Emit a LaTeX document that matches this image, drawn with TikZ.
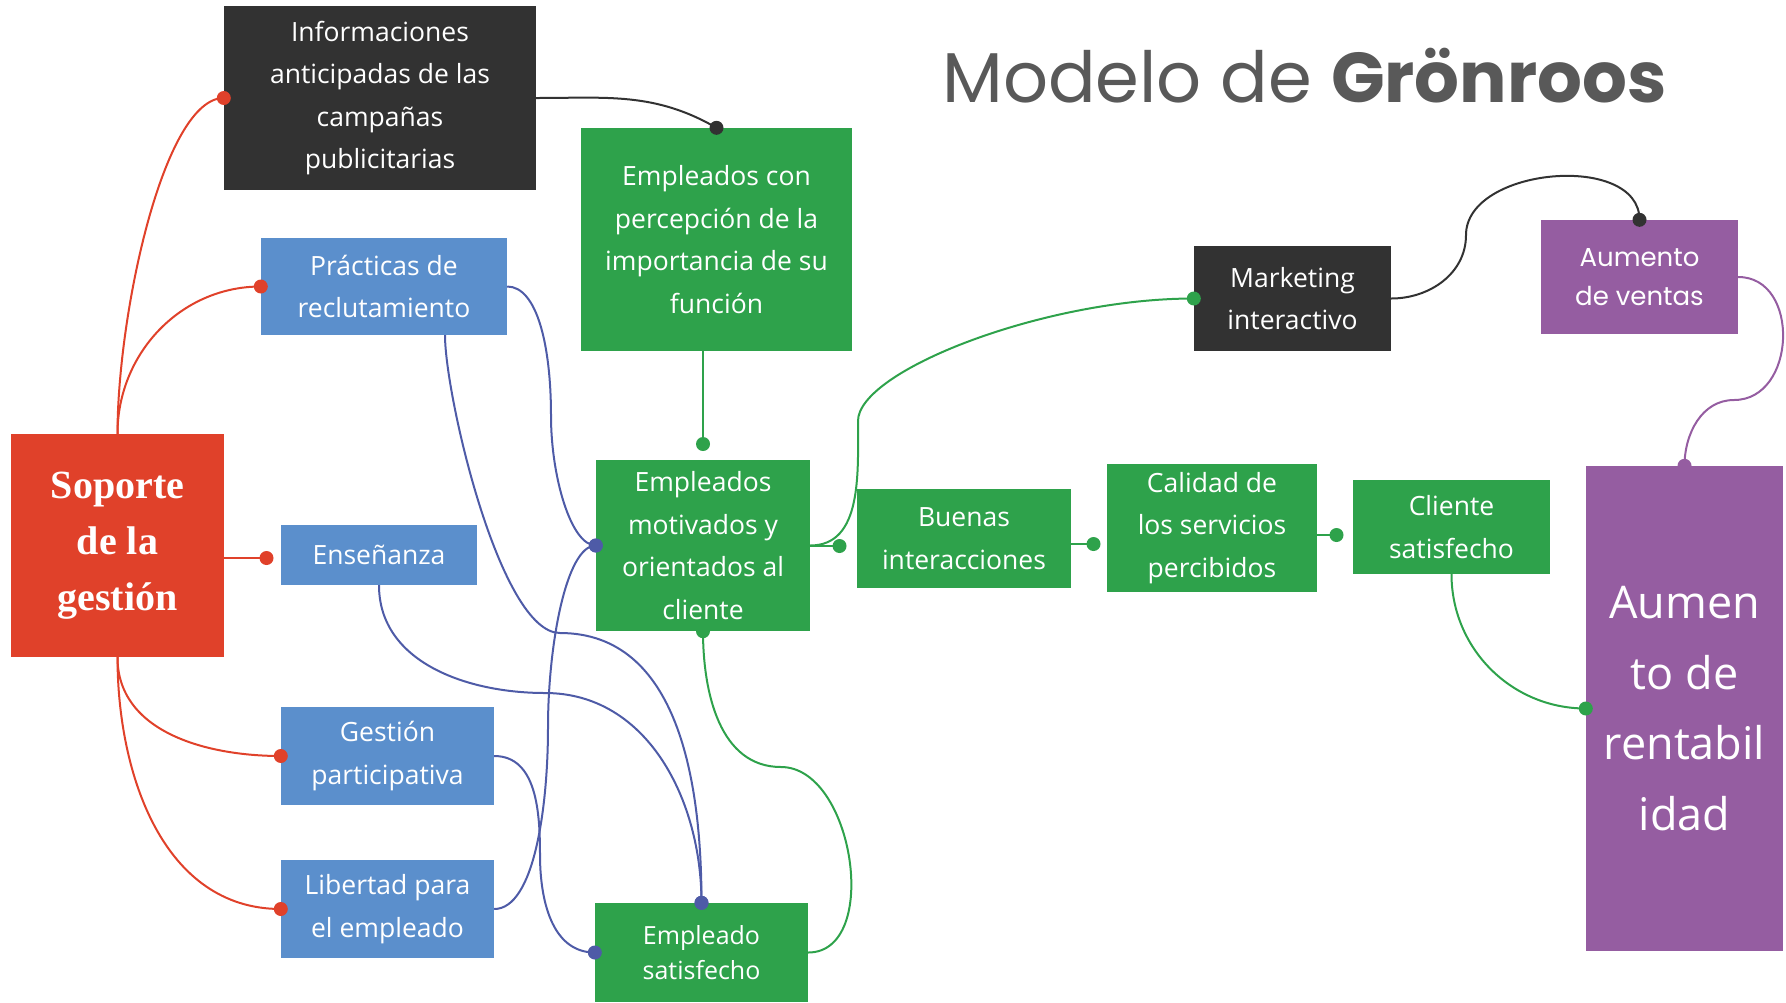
\documentclass[tikz,border=0pt]{standalone}
\usepackage{fontspec}
\setmainfont{Open Sans}
\newfontfamily\titlefont{Poppins}
\newfontfamily\seriffont{Liberation Serif}
\usetikzlibrary{positioning}
\usetikzlibrary{calc}
\definecolor{redc}{HTML}{E0412A}
\definecolor{darkc}{HTML}{323232}
\definecolor{bluebox}{HTML}{5B8FCC}
\definecolor{bluel}{HTML}{4E5BA7}
\definecolor{greenc}{HTML}{2EA24B}
\definecolor{purplec}{HTML}{955DA1}
\definecolor{titlegray}{HTML}{595959}
\tikzset{%
  basebox/.style = {rectangle,inner sep=0pt,align=center,text=white,
        font=\fontsize{26.5}{42.5}\selectfont},
  redbox/.style = {basebox,fill=redc,
        font=\seriffont\bfseries\fontsize{40}{56}\selectfont},
  darkbox/.style = {basebox,fill=darkc},
  bluebx/.style = {basebox,fill=bluebox},
  greenbox/.style = {basebox,fill=greenc},
  purplebox/.style = {basebox,fill=purplec},
  link/.style = {line width=2pt},
  redlink/.style = {link,draw=redc},
  darklink/.style = {link,draw=darkc},
  bluelink/.style = {link,draw=bluel},
  greenlink/.style = {link,draw=greenc},
  purplelink/.style = {link,draw=purplec},
  enddot/.style = {circle,fill=#1,inner sep=0pt,minimum size=14pt}
}
\begin{document}
\begin{tikzpicture}[x=1pt,y=1pt]
        \useasboundingbox (0,0) rectangle (1786,-1002);
        \node[anchor=base,text=titlegray,font=\titlefont\fontsize{70.5}{80}\selectfont]
          (title) at (1304.5,-102.5) {Modelo de \textbf{Grönroos}};

        \node[redbox,minimum width=213pt,minimum height=223pt] (soporte) at (117.5,-545.5) {Soporte\\de la\\gestión};
        \node[darkbox,minimum width=312pt,minimum height=184pt] (info) at (380,-98) {Informaciones\\anticipadas de las\\campañas\\publicitarias};
        \node[bluebx,minimum width=246pt,minimum height=97pt] (practicas) at (384,-286.5) {Prácticas de\\reclutamiento};
        \node[bluebx,minimum width=196pt,minimum height=60pt] (ensenanza) at (379,-555) {Enseñanza};
        \node[bluebx,minimum width=213pt,minimum height=98pt] (gestion) at (387.5,-756) {Gestión\\participativa};
        \node[bluebx,minimum width=213pt,minimum height=98pt] (libertad) at (387.5,-909) {Libertad para\\el empleado};
        \node[greenbox,minimum width=271pt,minimum height=223pt] (percepcion) at (716.5,-239.5) {Empleados con\\percepción de la\\importancia de su\\función};
        \node[greenbox,minimum width=214pt,minimum height=171pt] (motivados) at (703,-545.5) {Empleados\\motivados y\\orientados al\\cliente};
        \node[greenbox,minimum width=213pt,minimum height=99pt,font=\fontsize{25}{35}\selectfont] (empsat) at (701.5,-952.5) {Empleado\\satisfecho};
        \node[greenbox,minimum width=214pt,minimum height=99pt] (buenas) at (964,-538.5) {Buenas\\interacciones};
        \node[greenbox,minimum width=210pt,minimum height=128pt] (calidad) at (1212,-528) {Calidad de\\los servicios\\percibidos};
        \node[greenbox,minimum width=197pt,minimum height=94pt] (cliente) at (1451.5,-527) {Cliente\\satisfecho};
        \node[darkbox,minimum width=197pt,minimum height=105pt] (marketing) at (1292.5,-298.5) {Marketing\\interactivo};
        \node[purplebox,minimum width=197pt,minimum height=114pt,font=\titlefont\fontsize{26}{39}\selectfont] (ventas) at (1639.5,-277) {Aumento\\de ventas};
        \node[purplebox,minimum width=197pt,minimum height=485pt,font=\fontsize{45}{70.5}\selectfont] (rentab) at (1684.5,-708.5) {Aumen\\to de\\rentabil\\idad};

        \coordinate (d-ens) at (266.5,-558);
        \coordinate (d-mot) at (703,-444);
        \coordinate (d-buenas) at (839.5,-546);
        \coordinate (d-calidad) at (1093.5,-544);
        \coordinate (d-cliente) at (1336.5,-535);
        \coordinate (m-b1) at (551,-416);
        \coordinate (m-b2) at (560,-633);
        \coordinate (m-b3) at (545,-693);
        \coordinate (m-b4) at (540,-855);
        \coordinate (m-b5) at (548,-727);
        \coordinate (m-g3) at (858,-421);
        \coordinate (m-g4) at (781,-767);
        \coordinate (m-d2) at (1466,-235);
        \coordinate (m-p1) at (1734,-400);

        \draw[redlink] (soporte.north) to[out=90,in=180,out distance=120pt,in distance=60pt] (info.west) node[enddot=redc] {};
        \draw[redlink] (soporte.north) to[out=90,in=180] (practicas.west) node[enddot=redc] {};
        \draw[redlink] (soporte.east |- d-ens) -- (d-ens) node[enddot=redc] {};
        \draw[redlink] (soporte.south) to[out=-90,in=180] (gestion.west) node[enddot=redc] {};
        \draw[redlink] (soporte.south) to[out=-90,in=180] (libertad.west) node[enddot=redc] {};

        \draw[darklink] (info.east) to[out=0,in=150] (percepcion.north) node[enddot=darkc] {};
        \draw[greenlink] (percepcion.south -| d-mot) -- (d-mot) node[enddot=greenc] {};

        \draw[bluelink] (practicas.east) to[out=0,in=90,out distance=30pt,in distance=70pt] (m-b1)
          to[out=-90,in=180,out distance=60pt,in distance=25pt] (motivados.west) node[enddot=bluel] {};
        \draw[bluelink] ([xshift=61pt]practicas.south) to[out=-90,in=180,out distance=60pt,in distance=60pt] (m-b2)
          to[out=0,in=90] (empsat.north) node[enddot=bluel] {};
        \draw[bluelink] (ensenanza.south) to[out=-90,in=180] (m-b3)
          to[out=0,in=90] (empsat.north) node[enddot=bluel] {};
        \draw[bluelink] (gestion.east) to[out=0,in=90] (m-b4)
          to[out=-90,in=180] (empsat.west) node[enddot=bluel] {};
        \draw[bluelink] (libertad.east) to[out=0,in=-90,out distance=40pt,in distance=80pt] (m-b5)
          to[out=90,in=180,out distance=80pt,in distance=30pt] (motivados.west) node[enddot=bluel] {};

        \draw[greenlink] (motivados.east |- d-buenas) -- (d-buenas) node[enddot=greenc] {};
        \draw[greenlink] (motivados.east) to[out=0,in=-90] (m-g3)
          to[out=90,in=180,out distance=50pt,in distance=150pt] (marketing.west) node[enddot=greenc] {};
        \draw[greenlink] (empsat.east) to[out=0,in=0] (m-g4)
          to[out=180,in=-90] (motivados.south) node[enddot=greenc] {};
        \draw[greenlink] (buenas.east |- d-calidad) -- (d-calidad) node[enddot=greenc] {};
        \draw[greenlink] (calidad.east |- d-cliente) -- (d-cliente) node[enddot=greenc] {};
        \draw[greenlink] (cliente.south) to[out=-90,in=180] (rentab.west) node[enddot=greenc] {};

        \draw[darklink] (marketing.east) to[out=0,in=-90] (m-d2)
          to[out=90,in=90] (ventas.north) node[enddot=darkc] {};
        \draw[purplelink] (ventas.east) to[out=0,in=0,looseness=1.3] (m-p1)
          to[out=180,in=90] (rentab.north) node[enddot=purplec] {};
    \end{tikzpicture}
\end{document}
